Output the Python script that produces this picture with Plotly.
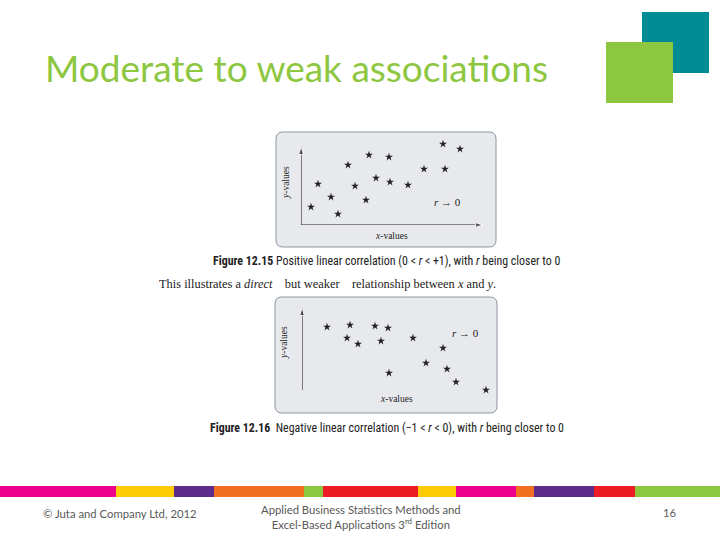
import plotly.graph_objects as go

W, H = 720, 540

# ---- data ----
pos_x = [1.0, 1.7, 3.0, 3.7, 4.7, 5.4, 6.5, 6.8, 7.5, 8.8, 8.9, 10.7, 12.3, 14.2, 14.4, 15.9]
pos_y = [1.8, 4.1, 2.8, 1.1, 6.0, 3.9, 2.5, 7.0, 4.7, 6.8, 4.3, 4.0, 5.6, 8.1, 5.6, 7.6]

neg_x = [2.5, 4.8, 4.5, 5.6, 7.3, 8.6, 7.9, 11.1, 8.7, 14.1, 12.4, 14.5, 15.4, 18.4]
neg_y = [6.3, 6.5, 5.2, 4.6, 6.4, 6.2, 4.9, 5.2, 1.7, 4.2, 2.7, 2.1, 0.8, 0.0]

band_edges = [0, 116, 174, 214, 304, 323, 418, 456, 516, 534, 594, 635, 720]
band_colors = ["#EC008C", "#FFCB05", "#5B2C8C", "#F26F21", "#8DC63F", "#ED1C24",
               "#FFCB05", "#EC008C", "#F26F21", "#5B2C8C", "#ED1C24", "#8DC63F"]

title_text = "Moderate to weak associations"
cap1 = "<b>Figure 12.15</b> Positive linear correlation (0 &lt; <i>r</i> &lt; +1), with <i>r</i> being closer to 0"
cap2 = "<b>Figure 12.16</b>  Negative linear correlation (\u22121 &lt; <i>r</i> &lt; 0), with <i>r</i> being closer to 0"
sentence = "This illustrates a <i>direct</i>    but weaker    relationship between <i>x</i> and <i>y</i>."

# axis extents (data units) for the two panels
ax1_xmax, ax1_ymax = 18.2, 7.8
ax2_ymax = 8.2


def px(x):
    return x / W


def py(y):
    return 1 - y / H


def rounded_box(x0, y0, x1, y1, r):
    X0, X1 = px(x0), px(x1)
    Y0, Y1 = py(y0), py(y1)
    rx, ry = r / W, r / H
    return (f"M {X0+rx},{Y0} L {X1-rx},{Y0} Q {X1},{Y0} {X1},{Y0-ry} "
            f"L {X1},{Y1+ry} Q {X1},{Y1} {X1-rx},{Y1} L {X0+rx},{Y1} "
            f"Q {X0},{Y1} {X0},{Y1+ry} L {X0},{Y0-ry} Q {X0},{Y0} {X0+rx},{Y0} Z")


fig = go.Figure()

# axis arrows (lines with arrowhead marker at the far end)
arrow_marker = dict(symbol=["circle", "arrow"], size=[0, 8], color="#222222", angleref="previous")
arrow_line = dict(color="#222222", width=1.1)
fig.add_trace(go.Scatter(x=[0, 0], y=[0, ax1_ymax], mode="lines+markers", line=arrow_line, marker=arrow_marker,
                         xaxis="x", yaxis="y", cliponaxis=False, showlegend=False, hoverinfo="skip"))
fig.add_trace(go.Scatter(x=[0, ax1_xmax], y=[0, 0], mode="lines+markers", line=arrow_line, marker=arrow_marker,
                         xaxis="x", yaxis="y", cliponaxis=False, showlegend=False, hoverinfo="skip"))
fig.add_trace(go.Scatter(x=[0, 0], y=[0, ax2_ymax], mode="lines+markers", line=arrow_line, marker=arrow_marker,
                         xaxis="x2", yaxis="y2", cliponaxis=False, showlegend=False, hoverinfo="skip"))

star = dict(symbol="star", size=6, color="#222222")
fig.add_trace(go.Scatter(x=pos_x, y=pos_y, mode="markers", marker=star,
                         xaxis="x", yaxis="y", cliponaxis=False, showlegend=False, hoverinfo="skip"))
fig.add_trace(go.Scatter(x=neg_x, y=neg_y, mode="markers", marker=star,
                         xaxis="x2", yaxis="y2", cliponaxis=False, showlegend=False, hoverinfo="skip"))

shapes = []
# panel boxes
shapes.append(dict(type="path", xref="paper", yref="paper", path=rounded_box(276, 132, 496, 247, 7),
                   fillcolor="#E8E9ED", line=dict(color="#8C95A3", width=1), layer="below"))
shapes.append(dict(type="path", xref="paper", yref="paper", path=rounded_box(275, 297, 497, 413, 7),
                   fillcolor="#E8E9ED", line=dict(color="#8C95A3", width=1), layer="below"))
# decorative squares
shapes.append(dict(type="rect", xref="paper", yref="paper", x0=px(642), x1=px(709), y0=py(73), y1=py(12),
                   fillcolor="#008C95", line=dict(width=0)))
shapes.append(dict(type="rect", xref="paper", yref="paper", x0=px(606), x1=px(673), y0=py(103), y1=py(42),
                   fillcolor="#8DC63F", line=dict(width=0)))
# colour band
for i, c in enumerate(band_colors):
    shapes.append(dict(type="rect", xref="paper", yref="paper", x0=px(band_edges[i]), x1=px(band_edges[i + 1]),
                       y0=py(497), y1=py(486), fillcolor=c, line=dict(width=0)))

serif = "Liberation Serif"
narrow = "Liberation Sans Narrow, Roboto Condensed, Liberation Sans"


def txt(x, y, text, font, xanchor="center", yanchor="middle", **kw):
    d = dict(x=px(x), y=py(y), xref="paper", yref="paper", text=text, showarrow=False,
             xanchor=xanchor, yanchor=yanchor, font=font)
    d.update(kw)
    return d


ann = [
    txt(447, 202, "<i>r</i> \u2192 0", dict(family=serif, size=11, color="#222")),
    txt(465, 333, "<i>r</i> \u2192 0", dict(family=serif, size=11, color="#222")),
    txt(392, 236, "<i>x</i>-values", dict(family=serif, size=9.5, color="#222")),
    txt(286, 183, "<i>y</i>-values", dict(family=serif, size=9.5, color="#222"), textangle=-90),
    txt(396, 399, "<i>x</i>-values", dict(family=serif, size=9.5, color="#222")),
    txt(284, 343, "<i>y</i>-values", dict(family=serif, size=9.5, color="#222"), textangle=-90),
    txt(386, 261, cap1, dict(family=narrow, size=11.9, color="#222")),
    txt(387, 428, cap2, dict(family=narrow, size=11.9, color="#222")),
    txt(157, 284, sentence, dict(family=serif, size=12.4, color="#222"), xanchor="left"),
    txt(43, 68, title_text, dict(family="Lato", size=37, color="#8DC63F"), xanchor="left"),
    txt(120, 513, "\u00a9 Juta and Company Ltd, 2012", dict(family="Lato", size=11.3, color="#595959")),
    txt(361, 517, "Applied Business Statistics Methods and<br>Excel-Based Applications 3<sup>rd</sup> Edition",
        dict(family="Lato", size=11.3, color="#595959")),
    txt(670, 512, "16", dict(family="Lato", size=11.3, color="#595959")),
]

ax_common = dict(showgrid=False, zeroline=False, showticklabels=False, ticks="", showline=False, fixedrange=True)
fig.update_layout(
    width=W, height=H, margin=dict(l=0, r=0, t=0, b=0),
    paper_bgcolor="white", plot_bgcolor="rgba(0,0,0,0)",
    shapes=shapes, annotations=ann,
    xaxis=dict(domain=[px(301), px(483)], range=[0, ax1_xmax], anchor="y", **ax_common),
    yaxis=dict(domain=[py(225), py(140)], range=[0, 8.5], anchor="x", **ax_common),
    xaxis2=dict(domain=[px(302), px(490)], range=[0, 18.8], anchor="y2", **ax_common),
    yaxis2=dict(domain=[py(390), py(306)], range=[0, 8.4], anchor="x2", **ax_common),
)

fig.write_html("out.html", config={"displayModeBar": False},
               post_script="document.body.style.margin='0';document.body.style.overflow='hidden';")
